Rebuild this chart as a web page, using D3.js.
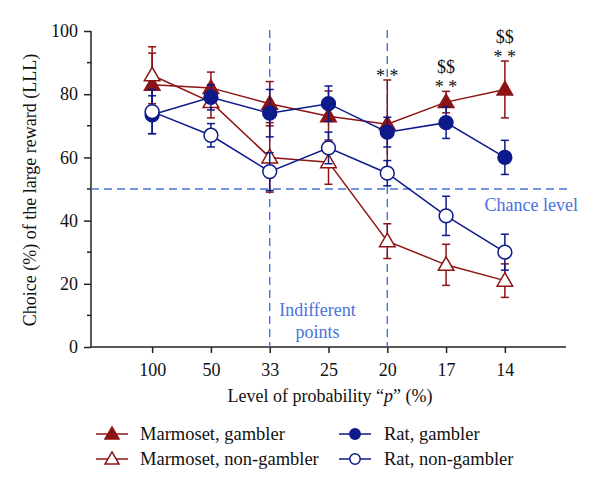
<!DOCTYPE html>
<html lang="en">
<head>
<meta charset="UTF-8">
<title>Choice of the large reward</title>
<script src="https://d3js.org/d3.v7.min.js"></script>
<style>
  body { margin: 0; background: #fff; }
  svg text { font-family: 'Liberation Serif', 'Times New Roman', serif; fill: #111; }
  .dash { stroke: #4a72dc; stroke-width: 1.4; stroke-dasharray: 8,5; fill: none; }
  .note-blue { fill: #4a72dc !important; }
</style>
</head>
<body>
<svg width="600" height="492"></svg>
<script>
  // data
  const levels = ["100", "50", "33", "25", "20", "17", "14"];
  const marmGambler     = [83, 82, 77, 73, 70.5, 77.5, 81.5];
  const marmGamblerErr  = [10, 5, 7, 8, 14, 3.4, 9];
  const marmNon         = [86, 77.5, 60, 58.5, 33.5, 26, 21];
  const marmNonErr      = [9, 5, 11, 7, 5.5, 6.5, 5.3];
  const ratGambler      = [73.5, 79, 74, 77, 68, 71, 60];
  const ratGamblerErr   = [6, 4, 7.5, 5.6, 4.7, 5, 5.4];
  const ratNon          = [74.5, 67, 55.5, 63, 55, 41.5, 30];
  const ratNonErr       = [7, 3.7, 6, 5, 4, 6.2, 5.7];
  const yTicks = [0, 20, 40, 60, 80, 100];
  const yMinor = [10, 30, 50, 70, 90];
  const chance = 50;
  const indifferent = ["33", "20"];
  // significance marks above marmoset gambler
  const marks = [
    { p: "20", lines: ["* *"] },
    { p: "17", lines: ["$$", "* *"] },
    { p: "14", lines: ["$$", "* *"] }
  ];

  const red = "#8c1414", blue = "#0c1a8a";
  const series = [
    { name: "Marmoset, gambler",     vals: marmGambler, err: marmGamblerErr, color: red,  shape: "tri", filled: true },
    { name: "Marmoset, non-gambler", vals: marmNon,     err: marmNonErr,     color: red,  shape: "tri", filled: false },
    { name: "Rat, gambler",          vals: ratGambler,  err: ratGamblerErr,  color: blue, shape: "circ", filled: true },
    { name: "Rat, non-gambler",      vals: ratNon,      err: ratNonErr,      color: blue, shape: "circ", filled: false }
  ];

  const svg = d3.select("svg");
  const plotL = 91, plotR = 566, plotT = 31, plotB = 347;

  const x = d3.scalePoint().domain(levels).range([plotL, plotR]).padding(1.04);
  const y = d3.scaleLinear().domain([0, 100]).range([plotB, plotT]);

  // axes
  const ya = svg.append("g").attr("transform", `translate(${plotL},0)`)
    .call(d3.axisLeft(y).tickValues(yTicks).tickSize(7).tickSizeOuter(0).tickPadding(6));
  ya.selectAll("text").style("font-size", "18px");
  ya.selectAll("line, path").attr("stroke", "#222").attr("stroke-width", 1.5);
  ya.select(".domain").attr("d", `M0,${y(100)}V${plotB}`);
  svg.append("g").selectAll("line").data(yMinor).join("line")
    .attr("x1", plotL - 4).attr("x2", plotL).attr("y1", d => y(d)).attr("y2", d => y(d))
    .attr("stroke", "#222").attr("stroke-width", 1.5);

  const xa = svg.append("g").attr("transform", `translate(0,${plotB})`)
    .call(d3.axisBottom(x).tickSize(6).tickSizeOuter(0).tickPadding(10));
  xa.selectAll("text").style("font-size", "18px");
  xa.selectAll("line, path").attr("stroke", "#222").attr("stroke-width", 1.5);
  xa.select(".domain").attr("d", `M${plotL},0H${plotR}`);

  // axis titles
  svg.append("text").attr("x", 330).attr("y", 402).attr("text-anchor", "middle")
    .style("font-size", "18px")
    .html('Level of probability \u201c<tspan font-style="italic">p</tspan>\u201d (%)');
  svg.append("text").attr("transform", "translate(36,190) rotate(-90)").attr("text-anchor", "middle")
    .style("font-size", "18px").text("Choice (%) of the large reward (LLL)");

  // reference lines
  svg.append("line").attr("class", "dash")
    .attr("x1", plotL).attr("x2", plotR + 2).attr("y1", y(chance)).attr("y2", y(chance));
  svg.selectAll(".vref").data(indifferent).join("line").attr("class", "dash vref")
    .attr("x1", d => x(d)).attr("x2", d => x(d)).attr("y1", plotT - 1).attr("y2", plotB);
  svg.append("text").attr("class", "note-blue").attr("x", 578).attr("y", 211)
    .attr("text-anchor", "end").style("font-size", "18px").text("Chance level");
  const midX = (x("33") + x("20")) / 2 - 11;
  svg.append("text").attr("class", "note-blue").attr("x", midX).attr("y", 316)
    .attr("text-anchor", "middle").style("font-size", "18px").text("Indifferent");
  svg.append("text").attr("class", "note-blue").attr("x", midX).attr("y", 338)
    .attr("text-anchor", "middle").style("font-size", "18px").text("points");

  const tri = d3.symbol().type(d3.symbolTriangle);

  function drawMarker(g, s, cx, cy, size) {
    if (s.shape === "tri") {
      g.append("path").attr("d", tri.size(size)())
        .attr("transform", `translate(${cx},${cy + 1})`)
        .attr("fill", s.filled ? s.color : "#fff").attr("stroke", s.color).attr("stroke-width", 1.5);
    } else {
      g.append("circle").attr("cx", cx).attr("cy", cy).attr("r", Math.sqrt(size / Math.PI))
        .attr("fill", s.filled ? s.color : "#fff").attr("stroke", s.color).attr("stroke-width", 1.5);
    }
  }

  // series: error bars, line, markers
  const line = d3.line().x((d, i) => x(levels[i])).y(d => y(d));
  series.forEach(s => {
    const g = svg.append("g");
    levels.forEach((lv, i) => {
      const cx = x(lv), hi = y(s.vals[i] + s.err[i]), lo = y(s.vals[i] - s.err[i]);
      g.append("line").attr("x1", cx).attr("x2", cx).attr("y1", hi).attr("y2", lo)
        .attr("stroke", s.color).attr("stroke-width", 1.5);
      [hi, lo].forEach(yy => g.append("line").attr("x1", cx - 4).attr("x2", cx + 4)
        .attr("y1", yy).attr("y2", yy).attr("stroke", s.color).attr("stroke-width", 1.5));
    });
    g.append("path").attr("d", line(s.vals)).attr("fill", "none")
      .attr("stroke", s.color).attr("stroke-width", 1.5);
    levels.forEach((lv, i) => drawMarker(g, s, x(lv), y(s.vals[i]), s.shape === "tri" ? 105 : 150));
  });

  // significance marks
  marks.forEach(m => {
    const i = levels.indexOf(m.p);
    const capY = y(marmGambler[i] + marmGamblerErr[i]);
    m.lines.slice().reverse().forEach((t, k) => {
      const isStar = t.indexOf("*") >= 0;
      svg.append("text").attr("x", x(m.p)).attr("y", capY - 2 - k * 16 + (isStar ? 4 : 0))
        .attr("text-anchor", "middle").style("font-size", "18px")
        .text(t);
    });
  });

  // legend
  const legend = svg.append("g");
  const legPos = [[112, 434], [112, 459], [355, 434], [355, 459]];
  series.forEach((s, i) => {
    const [cx, cy] = legPos[i];
    const g = legend.append("g");
    g.append("line").attr("x1", cx - 16).attr("x2", cx + 16).attr("y1", cy).attr("y2", cy)
      .attr("stroke", s.color).attr("stroke-width", 1.5);
    drawMarker(g, s, cx, cy, 85);
    g.append("text").attr("x", cx + (i < 2 ? 28 : 29)).attr("y", cy + 6)
      .style("font-size", "18.5px").text(s.name);
  });
</script>
</body>
</html>
